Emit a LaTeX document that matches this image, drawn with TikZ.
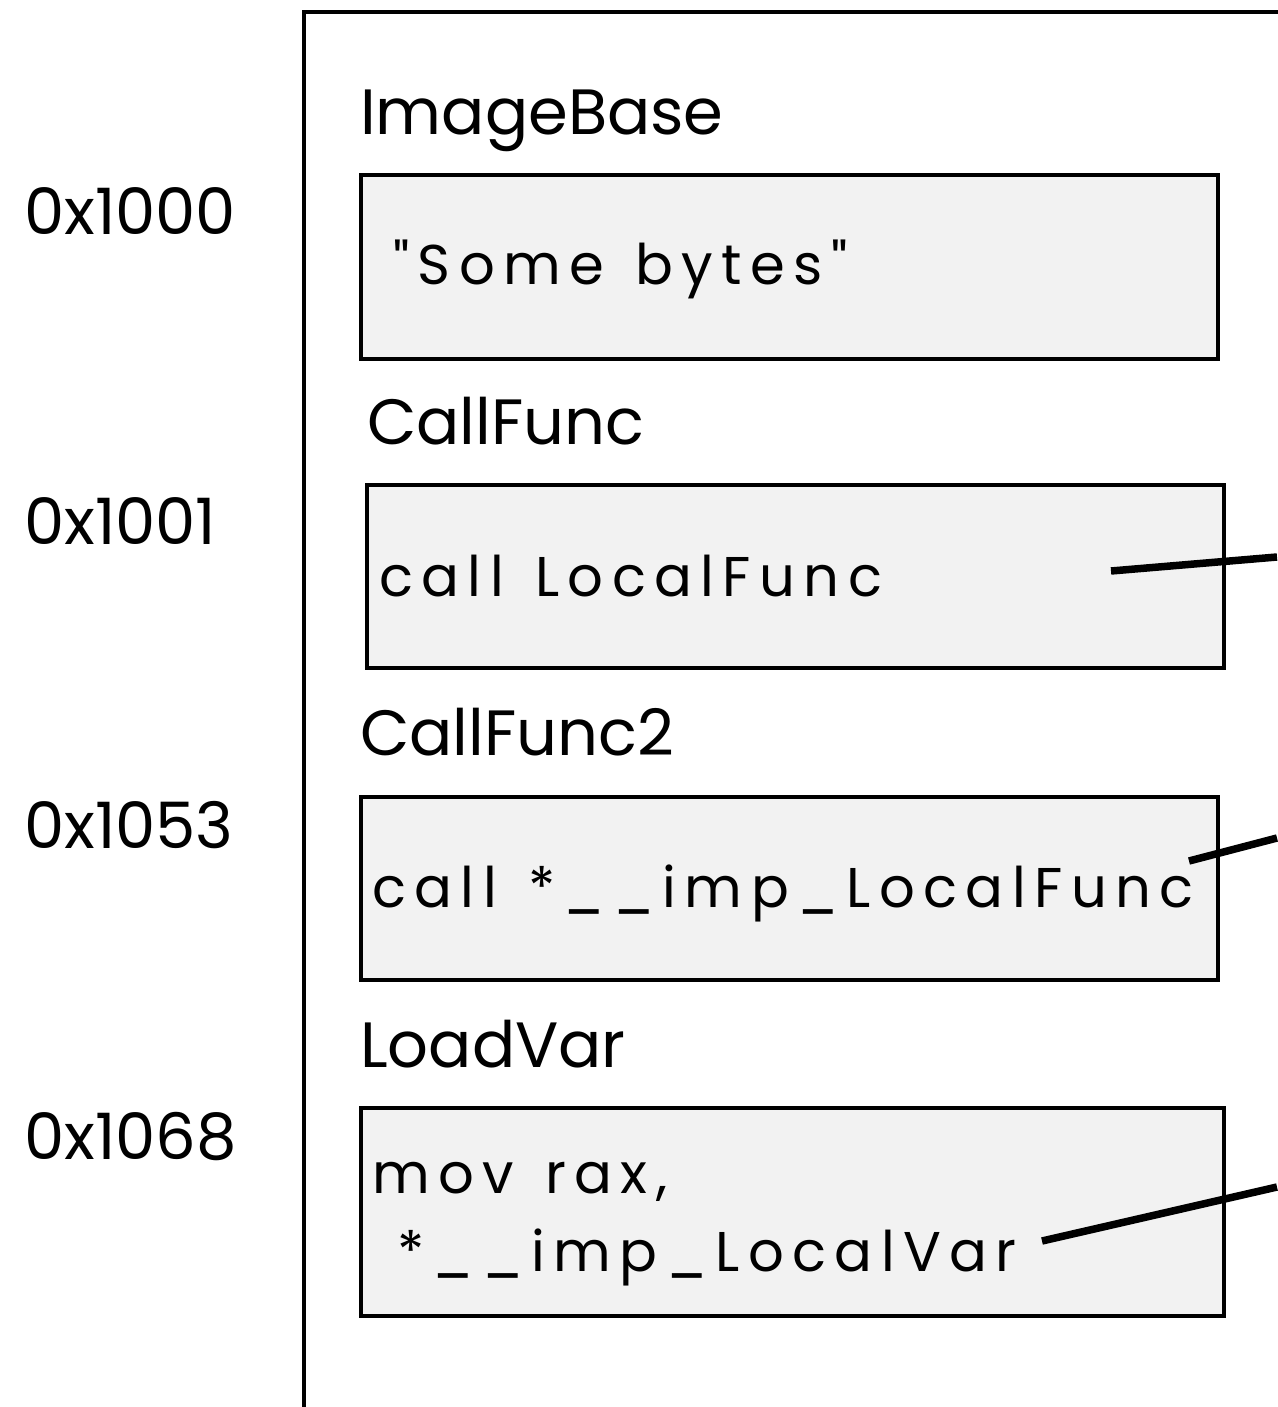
\documentclass[tikz,border=0pt]{standalone}
\usepackage{fontspec}
\setmainfont{Poppins}
\newfontfamily\codefont[LetterSpace=15,WordSpace=1.35]{Poppins}
\begin{document}
\begin{tikzpicture}[x=1pt,y=-1pt,
  lbl/.style={anchor=base west,inner sep=0pt,font=\fontsize{64}{64}\selectfont},
  addr/.style={anchor=base west,inner sep=0pt,font=\fontsize{64}{64}\selectfont},
  code/.style={anchor=base west,inner sep=0pt,font=\fontsize{56}{56}\selectfont\codefont},
  membox/.style={draw,line width=4pt,fill=boxgray,inner sep=0pt},
  link/.style={line width=7.5pt}]
\definecolor{boxgray}{HTML}{F2F2F2}
\useasboundingbox (0,0) rectangle (1277,1407);
% memory frame
\draw[line width=4pt] (304,1412) -- (304,12) -- (1282,12);
% sections
\draw[membox] (361,175) rectangle (1218,359);
\draw[membox] (367,485) rectangle (1224,668);
\draw[membox] (361,797) rectangle (1218,980);
\draw[membox] (361,1108) rectangle (1224,1316);
% section names
\node[lbl] (n1) at (360,135) {ImageBase};
\node[lbl] (n2) at (367,444) {CallFunc};
\node[lbl] (n3) at (360,755) {CallFunc2};
\node[lbl] (n4) at (360,1067) {LoadVar};
% addresses
\node[addr] (a1) at (24,234) {0x1000};
\node[addr] (a2) at (24,544) {0x1001};
\node[addr] (a3) at (24,848) {0x1053};
\node[addr] (a4) at (24,1159) {0x1068};
% contents
\node[code] (c1) at (393,284) {"Some bytes"};
\node[code] (c2) at (379,596) {call LocalFunc};
\node[code] (c3) at (372,907) {call *\_\_imp\_LocalFunc};
\node[code] (c4) at (372,1193) {mov rax,};
\node[code] (c5) at (397,1271) {*\_\_imp\_LocalVar};
% references leaving the frame
\coordinate (s1) at (1111,571);
\coordinate (e1) at (1277,557);
\coordinate (s2) at (1189,861);
\coordinate (e2) at (1277,838);
\coordinate (s3) at (1042,1241);
\coordinate (e3) at (1277,1187);
\draw[link] (s1) -- (e1);
\draw[link] (s2) -- (e2);
\draw[link] (s3) -- (e3);
\end{tikzpicture}
\end{document}
